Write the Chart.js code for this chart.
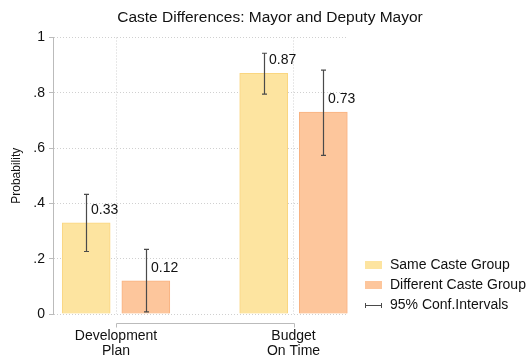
<!DOCTYPE html>
<html>
  <head>
    <title>Caste Differences</title>
    <script src="https://cdn.jsdelivr.net/npm/chart.js@4"></script>
    <style>
      html, body { margin: 0; padding: 0; background: #fff; }
      #container { width: 532px; height: 358px; }
    </style>
  </head>
  <body>
    <div id="container">
      <canvas id="canvas"></canvas>
    </div>
    <script>
      // values
      const categories = [['Development', 'Plan'], ['Budget', 'On Time']];
      const groups = ['Same Caste Group', 'Different Caste Group'];
      const sameCaste = [0.33, 0.87];
      const diffCaste = [0.12, 0.73];
      const sameLow = [0.226, 0.795];
      const sameHigh = [0.433, 0.943];
      const diffLow = [0.008, 0.574];
      const diffHigh = [0.234, 0.882];
      const yTicks = [0, 0.2, 0.4, 0.6, 0.8, 1];
      const yTickLabels = ['0', '.2', '.4', '.6', '.8', '1'];
      const titleText = 'Caste Differences: Mayor and Deputy Mayor';
      const ciLabel = '95% Conf.Intervals';

      const FONT = "'Liberation Sans', Arial, Helvetica, sans-serif";
      const colors = {
        fill: ['rgb(253, 228, 160)', 'rgb(253, 198, 156)'],
        edge: ['rgb(250, 214, 128)', 'rgb(248, 178, 128)'],
      };
      const groupShift = [-0.168, 0.168];

      function toPoints(values, g) {
        return values.map((v, i) => ({ x: i + 1 + groupShift[g], y: v }));
      }

      // error bars, value labels, title, x axis line, legend
      const errorBars = {
        id: 'errorBars',
        afterDatasetsDraw(chart) {
          const { ctx, scales: { y } } = chart;
          ctx.save();
          chart.data.datasets.forEach((ds, di) => {
            const meta = chart.getDatasetMeta(di);
            meta.data.forEach((bar, i) => {
              const x = Math.round(bar.x) + 0.5;
              const lo = y.getPixelForValue(ds.ciLow[i]);
              const hi = y.getPixelForValue(ds.ciHigh[i]);
              ctx.strokeStyle = '#4a4a4a';
              ctx.lineWidth = 1.2;
              ctx.beginPath();
              ctx.moveTo(x, hi);
              ctx.lineTo(x, lo);
              ctx.moveTo(x - 2.5, hi);
              ctx.lineTo(x + 2.5, hi);
              ctx.moveTo(x - 2.5, lo);
              ctx.lineTo(x + 2.5, lo);
              ctx.stroke();

              const v = ds.data[i].y;
              ctx.fillStyle = '#111';
              ctx.font = '14px ' + FONT;
              ctx.textAlign = 'left';
              ctx.textBaseline = 'middle';
              ctx.fillText(v.toFixed(2), x + 4.5, y.getPixelForValue(v) - 13);
            });
          });
          ctx.restore();
        },
        afterDraw(chart) {
          const { ctx, chartArea, scales: { x } } = chart;
          ctx.save();
          ctx.fillStyle = '#111';
          ctx.font = '15.5px ' + FONT;
          ctx.textAlign = 'center';
          ctx.textBaseline = 'middle';
          ctx.fillText(titleText, 270, 18);

          // offset x axis line between the two category ticks
          const ay = chartArea.bottom + 9.5;
          const x1 = Math.round(x.getPixelForValue(1)) + 0.5;
          const x2 = Math.round(x.getPixelForValue(categories.length)) + 0.5;
          ctx.strokeStyle = '#bbb';
          ctx.lineWidth = 1;
          ctx.beginPath();
          ctx.moveTo(x1, ay + 4);
          ctx.lineTo(x1, ay);
          ctx.lineTo(x2, ay);
          ctx.lineTo(x2, ay + 4);
          ctx.stroke();

          // legend
          const lx = 365;
          const rows = [265, 285, 305];
          ctx.font = '14px ' + FONT;
          ctx.textBaseline = 'middle';
          ctx.textAlign = 'left';
          groups.forEach((g, gi) => {
            ctx.fillStyle = colors.fill[gi];
            ctx.fillRect(lx, rows[gi] - 4, 17, 8);
            ctx.fillStyle = '#111';
            ctx.fillText(g, lx + 25, rows[gi]);
          });
          const cy = rows[2] + 0.5;
          ctx.strokeStyle = '#4a4a4a';
          ctx.beginPath();
          ctx.moveTo(lx + 0.5, cy - 2.5);
          ctx.lineTo(lx + 0.5, cy + 2.5);
          ctx.moveTo(lx, cy);
          ctx.lineTo(lx + 17, cy);
          ctx.moveTo(lx + 16.5, cy - 2.5);
          ctx.lineTo(lx + 16.5, cy + 2.5);
          ctx.stroke();
          ctx.fillStyle = '#111';
          ctx.fillText(ciLabel, lx + 25, rows[2]);
          ctx.restore();
        },
      };

      window.onload = () => {
        const ctx = document.getElementById('canvas').getContext('2d');
        const barStyle = { grouped: false, barThickness: 48, borderWidth: 1 };
        window.myBar = new Chart(ctx, {
          type: 'bar',
          data: {
            datasets: [
              {
                ...barStyle,
                label: groups[0],
                data: toPoints(sameCaste, 0),
                ciLow: sameLow,
                ciHigh: sameHigh,
                backgroundColor: colors.fill[0],
                borderColor: colors.edge[0],
              },
              {
                ...barStyle,
                label: groups[1],
                data: toPoints(diffCaste, 1),
                ciLow: diffLow,
                ciHigh: diffHigh,
                backgroundColor: colors.fill[1],
                borderColor: colors.edge[1],
              },
            ],
          },
          options: {
            responsive: true,
            maintainAspectRatio: false,
            animation: false,
            layout: { padding: { left: 0, right: 184, top: 37.5, bottom: 0 } },
            plugins: {
              legend: { display: false },
              tooltip: { enabled: false },
              title: { display: false },
            },
            scales: {
              x: {
                type: 'linear',
                min: 0.645,
                max: 2.307,
                offset: false,
                afterBuildTicks: (s) => {
                  s.ticks = categories.map((c, i) => ({ value: i + 1 }));
                },
                ticks: {
                  autoSkip: false,
                  maxRotation: 0,
                  padding: 15,
                  color: '#111',
                  font: { family: FONT, size: 14, lineHeight: 1.05 },
                  callback: (v) => categories[v - 1],
                },
                grid: { offset: false, color: '#d0d0d0', drawTicks: false },
                border: { display: false, dash: [1, 2] },
                afterFit: (s) => { s.height = 44; },
              },
              y: {
                min: 0,
                max: 1,
                afterBuildTicks: (s) => {
                  s.ticks = yTicks.map((v) => ({ value: v }));
                },
                ticks: {
                  padding: 4,
                  color: '#111',
                  font: { family: FONT, size: 14 },
                  callback: (v) => yTickLabels[yTicks.indexOf(v)],
                },
                grid: { color: '#d0d0d0', tickColor: '#bbb', tickLength: 4 },
                border: { color: '#bbb', dash: [1, 2] },
                title: {
                  display: true,
                  text: 'Probability',
                  color: '#111',
                  font: { family: FONT, size: 12 },
                  padding: { top: 9, bottom: 0 },
                },
                afterFit: (s) => { s.width = 53; },
              },
            },
          },
          plugins: [errorBars],
        });
      };
    </script>
  </body>
</html>
